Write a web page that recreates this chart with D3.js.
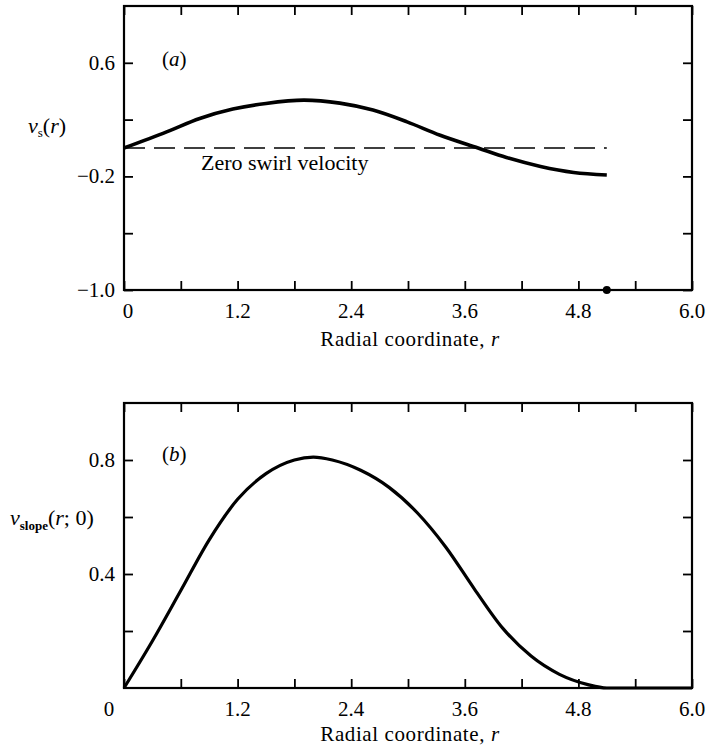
<!DOCTYPE html>
<html>
<head>
<meta charset="utf-8">
<script src="https://cdn.jsdelivr.net/npm/d3@7"></script>
<style>
  html, body { margin: 0; padding: 0; background: #fff; }
  svg { display: block; }
  text { font-family: "Liberation Serif", "Times New Roman", Times, "DejaVu Serif", serif; fill: #000; }
</style>
</head>
<body>
<svg id="chart" width="706" height="756" font-family="Liberation Serif, Times New Roman, serif"></svg>
<script>
// ---- data ----
const xTicks = [0, 0.6, 1.2, 1.8, 2.4, 3.0, 3.6, 4.2, 4.8, 5.4, 6.0];
const xTickLabels = ["0", "1.2", "2.4", "3.6", "4.8", "6.0"];
const xLabelValues = [0, 1.2, 2.4, 3.6, 4.8, 6.0];

const yTicksA = [-1.0, -0.6, -0.2, 0.2, 0.6];
const yLabelValuesA = [0.6, -0.2, -1.0];
const yTickLabelsA = ["0.6", "\u22120.2", "\u22121.0"];

const yTicksB = [0.2, 0.4, 0.6, 0.8];
const yLabelValuesB = [0.8, 0.4];
const yTickLabelsB = ["0.8", "0.4"];

// panel (a): swirl velocity v_s(r)
const rA = [0, 0.45, 0.8, 1.15, 1.5, 1.9, 2.28, 2.63, 2.99, 3.34, 3.74, 4.04, 4.4, 4.75, 5.1];
const vA = [0, 0.114, 0.208, 0.274, 0.314, 0.337, 0.316, 0.267, 0.184, 0.09, 0, -0.067, -0.13, -0.172, -0.19];
// zero swirl reference line and end point marker
const zeroLineR = [0, 5.1];
const zeroLineV = [0, 0];
const markerR = [5.1];
const markerV = [-1.0];

// panel (b): v_slope(r; 0)
const rB = [0, 0.3, 0.6, 0.9, 1.2, 1.5, 1.8, 2.0, 2.2, 2.5, 2.8, 3.1, 3.4, 3.7, 4.0, 4.3, 4.6, 4.9, 5.1, 5.5, 6.0];
const vB = [0, 0.165, 0.342, 0.52, 0.662, 0.752, 0.80, 0.81, 0.80, 0.764, 0.704, 0.614, 0.494, 0.348, 0.21, 0.112, 0.048, 0.012, 0, 0, 0];

// ---- layout ----
const svg = d3.select("#chart");
const L = 124, R = 692;
const x = d3.scaleLinear().domain([0, 6]).range([L, R]);
const yA = d3.scaleLinear().domain([-1, 1]).range([290, 6]);
const yB = d3.scaleLinear().domain([0, 1]).range([688, 403]);
const TS = 9;
const FS = 21;

function panel(y, yTicks, yLabVals, yLabs, xLabOffset0, xLabBase) {
  const g = svg.append("g");
  const [y0, y1] = y.range();
  const ax = [
    [d3.axisBottom(x).tickValues(xTicks), `translate(0,${y0})`],
    [d3.axisTop(x).tickValues(xTicks), `translate(0,${y1})`],
    [d3.axisLeft(y).tickValues(yTicks), `translate(${L},0)`],
    [d3.axisRight(y).tickValues(yTicks), `translate(${R},0)`]
  ];
  ax.forEach(([a, t]) => {
    const s = g.append("g").attr("transform", t)
      .call(a.tickSize(-TS).tickFormat(""));
    s.select(".domain").remove();
    s.selectAll("line").attr("stroke", "#000").attr("stroke-width", 1.8);
  });
  g.append("rect").attr("x", L).attr("y", y1).attr("width", R - L).attr("height", y0 - y1)
    .attr("fill", "none").attr("stroke", "#000").attr("stroke-width", 2.2);
  g.selectAll(".xl").data(xLabelValues).enter().append("text")
    .attr("x", (d, i) => x(d) + (i === 0 ? xLabOffset0 : 0))
    .attr("y", y0 + 28)
    .attr("text-anchor", "middle").attr("font-size", FS)
    .text((d, i) => xTickLabels[i]);
  g.selectAll(".yl").data(yLabVals).enter().append("text")
    .attr("x", L - 9).attr("y", d => y(d) + 7)
    .attr("text-anchor", "end").attr("font-size", FS)
    .text((d, i) => yLabs[i]);
  const t = g.append("text").attr("x", 410).attr("y", xLabBase)
    .attr("text-anchor", "middle").attr("font-size", FS).attr("letter-spacing", 0.6);
  t.append("tspan").text("Radial coordinate, ");
  t.append("tspan").attr("font-style", "italic").text("r");
  return g;
}

const gA = panel(yA, yTicksA, yLabelValuesA, yTickLabelsA, 4, 346);
const gB = panel(yB, yTicksB, yLabelValuesB, yTickLabelsB, -15, 741);

function letter(g, txt, xx, yy) {
  const t = g.append("text").attr("x", xx).attr("y", yy).attr("font-size", 21);
  t.append("tspan").text("(");
  t.append("tspan").attr("font-style", "italic").text(txt);
  t.append("tspan").text(")");
}
letter(gA, "a", 162, 66);
letter(gB, "b", 162, 461);

const tA = gA.append("text").attr("x", 28).attr("y", 133).attr("font-size", 22);
tA.append("tspan").attr("font-style", "italic").text("v");
tA.append("tspan").attr("font-size", 13).attr("dy", 4).text("s");
tA.append("tspan").attr("dy", -4).text("(");
tA.append("tspan").attr("font-style", "italic").text("r");
tA.append("tspan").text(")");

const tB = gB.append("text").attr("x", 10).attr("y", 525).attr("font-size", 22);
tB.append("tspan").attr("font-style", "italic").text("v");
tB.append("tspan").attr("font-size", 13).attr("font-weight", "bold").attr("dy", 5).text("slope");
tB.append("tspan").attr("dy", -5).text("(");
tB.append("tspan").attr("font-style", "italic").text("r");
tB.append("tspan").text("; 0)");

gA.append("path")
  .attr("d", d3.line().x(d => x(d[0])).y(d => yA(d[1]))(zeroLineR.map((r, i) => [r, zeroLineV[i]])))
  .attr("fill", "none").attr("stroke", "#000").attr("stroke-width", 1.5)
  .attr("stroke-dasharray", "21,9");
gA.append("text").attr("x", 201).attr("y", 170).attr("font-size", 22).text("Zero swirl velocity");

const lineA = d3.line().x(d => x(d[0])).y(d => yA(d[1])).curve(d3.curveCatmullRom.alpha(0.5));
gA.append("path").attr("d", lineA(rA.map((r, i) => [r, vA[i]])))
  .attr("fill", "none").attr("stroke", "#000").attr("stroke-width", 3.6);

gA.selectAll(".mk").data(markerR).enter().append("circle")
  .attr("cx", d => x(d)).attr("cy", (d, i) => yA(markerV[i])).attr("r", 4).attr("fill", "#000");

const lineB = d3.line().x(d => x(d[0])).y(d => yB(d[1])).curve(d3.curveMonotoneX);
gB.append("path").attr("d", lineB(rB.map((r, i) => [r, vB[i]])))
  .attr("fill", "none").attr("stroke", "#000").attr("stroke-width", 3.2);
</script>
</body>
</html>
